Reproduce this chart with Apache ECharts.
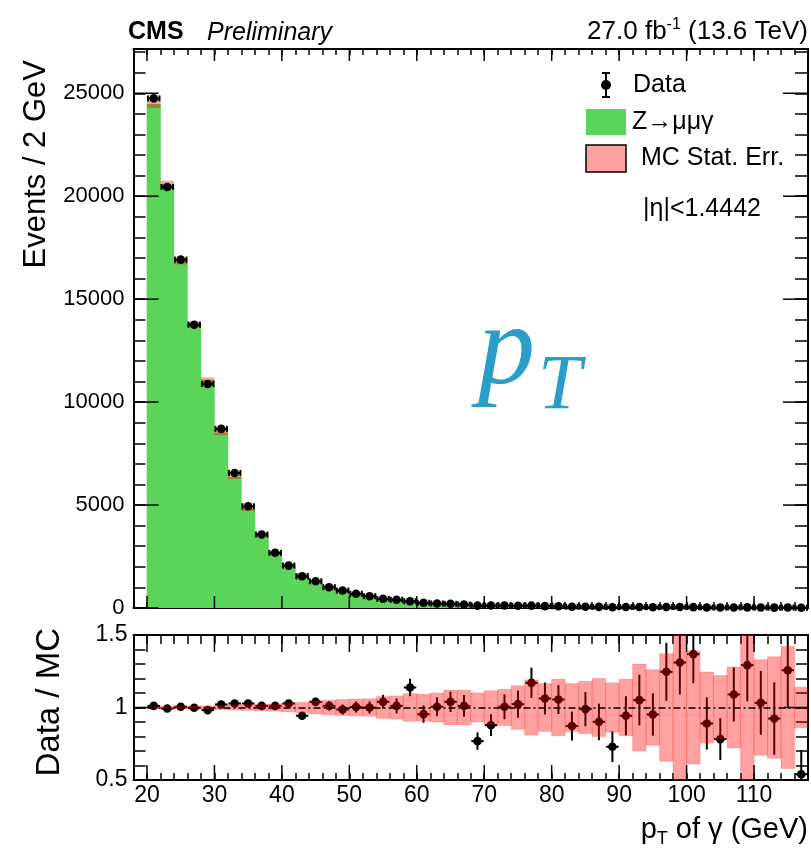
<!DOCTYPE html>
<html><head><meta charset="utf-8">
<script src="https://cdn.jsdelivr.net/npm/echarts@6/dist/echarts.min.js"></script>
<style>html,body{margin:0;padding:0;background:#fff;}#c{width:811px;height:850px;}</style>
</head><body><div id="c"></div>
<script>
// ---- data (2 GeV bins, photon pT) ----
const binLow = [20,22,24,26,28,30,32,34,36,38,40,42,44,46,48,50,52,54,56,58,60,62,64,66,68,70,72,74,76,78,80,82,84,86,88,90,92,94,96,98,100,102,104,106,108,110,112,114,116];
const mcValues = [24480,20590,16840,13790,11080,8520,6380,4805,3530,2650,2005,1635,1250,1000,862,687,573,430,394,290,264,217,196,168,150,134,119,107,97,88,80,72,65,59,54,49,45,41,38,35,32,29,27,25,23,21,20,18,17];
const dataValues = [24750,20450,16920,13760,10880,8700,6560,4940,3570,2680,2060,1540,1300,1010,850,690,573,447,398,330,252,218,204,170,115,118,120,110,113,93,84,63,64,53,39,46,47,39,47,46,44,26,21,27,30,22,18,23,9];
const mcRelErr = [0.008,0.008,0.009,0.01,0.011,0.015,0.018,0.02,0.022,0.025,0.03,0.035,0.045,0.05,0.055,0.058,0.06,0.075,0.08,0.095,0.092,0.1,0.12,0.12,0.1,0.115,0.125,0.15,0.19,0.165,0.195,0.165,0.18,0.2,0.17,0.195,0.3,0.26,0.37,0.6,0.39,0.245,0.22,0.28,0.6,0.33,0.35,0.42,0.14];
const ratioValues = [1.011,0.993,1.005,0.998,0.982,1.021,1.028,1.028,1.011,1.011,1.028,0.943,1.039,1.011,0.986,1.003,1.0,1.039,1.011,1.138,0.954,1.005,1.039,1.011,0.768,0.878,1.005,1.023,1.17,1.062,1.055,0.872,0.989,0.901,0.729,0.943,1.051,0.952,1.246,1.31,1.368,0.89,0.782,1.09,1.292,1.032,0.924,1.257,0.54];
const ratioErr = [0.006,0.006,0.007,0.008,0.009,0.01,0.012,0.014,0.017,0.019,0.022,0.025,0.028,0.032,0.035,0.038,0.042,0.048,0.052,0.06,0.06,0.065,0.07,0.075,0.06,0.075,0.086,0.094,0.105,0.11,0.1,0.1,0.118,0.126,0.106,0.135,0.175,0.146,0.2,0.22,0.2,0.18,0.144,0.186,0.25,0.22,0.25,0.26,0.165];
const binWidth = 2;
const xTickLabels = [20,30,40,50,60,70,80,90,100,110];
const yTickLabels = [0,5000,10000,15000,20000,25000];
const ratioTickLabels = [0.5,1,1.5];

// ---- styles ----
const FONT = "'Liberation Sans', Arial, sans-serif";
const GREEN = '#5ad55a';
const BAND = 'rgba(255,0,0,0.37)';
const X_MIN = 18, X_MAX = 118, Y_MAX = 27150, R_MIN = 0.5, R_MAX = 1.5;

const chart = echarts.init(document.getElementById('c'), null, {renderer: 'canvas'});

function csRect(params){ const c = params.coordSys; return {x:c.x, y:c.y, width:c.width, height:c.height}; }
function clip(r, params){ return echarts.graphic.clipRectByRect(r, csRect(params)); }

const barData = binLow.map((b,i)=>[b, mcValues[i], mcRelErr[i]]);
const dataPts = binLow.map((b,i)=>[b + binWidth/2, dataValues[i]]);
const ratioPts = binLow.map((b,i)=>[b + binWidth/2, ratioValues[i], ratioErr[i]]);
const bandData = binLow.map((b,i)=>[b, 1, mcRelErr[i]]);

function axisCommon(extra){
  return Object.assign({
    type:'value', splitLine:{show:false},
    axisLine:{show:true, onZero:false, lineStyle:{color:'#000', width:2}},
    axisTick:{show:true, inside:true, lineStyle:{color:'#000', width:1.5}},
    axisLabel:{show:false}
  }, extra);
}
function findLabel(v, list){ for (const t of list){ if (Math.abs(v-t) < 1e-6) return String(t); } return ''; }

function majorX(gridIdx, xIdx, yIdx, yMin, yMax, lb, lt){
  return {type:'custom', xAxisIndex:xIdx, yAxisIndex:yIdx, silent:true, z:10,
    data: xTickLabels.map(v=>[v, yMin]),
    renderItem:(params, api)=>{
      const pb = api.coord([api.value(0), yMin]);
      const pt = api.coord([api.value(0), yMax]);
      const st = {stroke:'#000', lineWidth:1.5};
      return {type:'group', children:[
        {type:'line', shape:{x1:pb[0], y1:pb[1], x2:pb[0], y2:pb[1]-lb}, style:st},
        {type:'line', shape:{x1:pt[0], y1:pt[1], x2:pt[0], y2:pt[1]+lt}, style:st}
      ]};
    }};
}
function majorY(xIdx, yIdx, values, len){
  return {type:'custom', xAxisIndex:xIdx, yAxisIndex:yIdx, silent:true, z:10,
    data: values.map(v=>[X_MIN, v]),
    renderItem:(params, api)=>{
      const pl = api.coord([X_MIN, api.value(1)]);
      const pr = api.coord([X_MAX, api.value(1)]);
      const st = {stroke:'#000', lineWidth:1.5};
      return {type:'group', children:[
        {type:'line', shape:{x1:pl[0], y1:pl[1], x2:pl[0]+len, y2:pl[1]}, style:st},
        {type:'line', shape:{x1:pr[0], y1:pr[1], x2:pr[0]-len, y2:pr[1]}, style:st}
      ]};
    }};
}

const option = {
  animation:false,
  backgroundColor:'#fff',
  grid:[
    {left:133.5, right:3, top:49, height:559},
    {left:133.5, right:3, top:635, height:145}
  ],
  xAxis:[
    axisCommon({gridIndex:0, position:'bottom', min:X_MIN, max:X_MAX, interval:2, axisTick:{show:true, inside:true, length:6, lineStyle:{color:'#000', width:1.5}}}),
    axisCommon({gridIndex:0, position:'top', min:X_MIN, max:X_MAX, interval:2, axisTick:{show:true, inside:true, length:6, lineStyle:{color:'#000', width:1.5}}}),
    axisCommon({gridIndex:1, position:'bottom', min:X_MIN, max:X_MAX, interval:2,
      axisTick:{show:true, inside:true, length:7, lineStyle:{color:'#000', width:1.5}},
      axisLabel:{show:true, margin:4, color:'#000', fontSize:23, fontFamily:FONT, formatter:v=>findLabel(v, xTickLabels)}}),
    axisCommon({gridIndex:1, position:'top', min:X_MIN, max:X_MAX, interval:2, axisTick:{show:true, inside:true, length:9, lineStyle:{color:'#000', width:1.5}}})
  ],
  yAxis:[
    axisCommon({gridIndex:0, position:'left', min:0, max:Y_MAX, interval:1000,
      axisTick:{show:true, inside:true, length:12, lineStyle:{color:'#000', width:1.5}},
      axisLabel:{show:true, margin:9, color:'#000', fontSize:22, fontFamily:FONT, formatter:v=>findLabel(v, yTickLabels)}}),
    axisCommon({gridIndex:0, position:'right', min:0, max:Y_MAX, interval:1000, axisTick:{show:true, inside:true, length:13, lineStyle:{color:'#000', width:1.5}}}),
    axisCommon({gridIndex:1, position:'left', min:R_MIN, max:R_MAX, interval:0.1,
      axisTick:{show:true, inside:true, length:12, lineStyle:{color:'#000', width:1.5}},
      axisLabel:{show:true, margin:6, color:'#000', fontSize:23, fontFamily:FONT, formatter:v=>findLabel(v, ratioTickLabels)}}),
    axisCommon({gridIndex:1, position:'right', min:R_MIN, max:R_MAX, interval:0.1, axisTick:{show:true, inside:true, length:12, lineStyle:{color:'#000', width:1.5}}})
  ],
  series:[
    // MC histogram
    {type:'custom', name:'Z→μμγ', xAxisIndex:0, yAxisIndex:0, data:barData, z:2,
      renderItem:(params, api)=>{
        const x0 = api.value(0), v = api.value(1);
        const p0 = api.coord([x0, 0]), p1 = api.coord([x0 + binWidth, v]);
        const r = clip({x:p0[0]-0.3, y:p1[1], width:p1[0]-p0[0]+0.6, height:p0[1]-p1[1]}, params);
        return r ? {type:'rect', shape:r, style:{fill:GREEN}} : null;
      }},
    // MC stat error in upper panel
    {type:'custom', name:'MC Stat. Err.', xAxisIndex:0, yAxisIndex:0, data:barData, z:3,
      renderItem:(params, api)=>{
        const x0 = api.value(0), v = api.value(1), e = api.value(2);
        const p0 = api.coord([x0, v*(1+e)]), p1 = api.coord([x0 + binWidth, v*(1-e)]);
        const r = clip({x:p0[0], y:p0[1], width:p1[0]-p0[0], height:Math.max(p1[1]-p0[1], 1)}, params);
        return r ? {type:'rect', shape:r, style:{fill:BAND}} : null;
      }},
    // Data points upper panel
    {type:'custom', name:'Data', xAxisIndex:0, yAxisIndex:0, data:dataPts, z:5,
      renderItem:(params, api)=>{
        const xc = api.value(0), v = api.value(1);
        const pl = api.coord([xc - binWidth/2, v]), pr = api.coord([xc + binWidth/2, v]), pc = api.coord([xc, v]);
        const st = {stroke:'#000', lineWidth:2};
        return {type:'group', children:[
          {type:'line', shape:{x1:pl[0]+1, y1:pl[1], x2:pr[0]-1, y2:pr[1]}, style:st},
          {type:'line', shape:{x1:pl[0]+1, y1:pl[1]-3, x2:pl[0]+1, y2:pl[1]+3}, style:st},
          {type:'line', shape:{x1:pr[0]-1, y1:pr[1]-3, x2:pr[0]-1, y2:pr[1]+3}, style:st},
          {type:'circle', shape:{cx:pc[0], cy:pc[1], r:4.3}, style:{fill:'#000'}}
        ]};
      }},
    // Ratio points
    {type:'custom', name:'Ratio', xAxisIndex:2, yAxisIndex:2, data:ratioPts, z:3, clip:true,
      renderItem:(params, api)=>{
        const xc = api.value(0), v = api.value(1), e = api.value(2);
        const pl = api.coord([xc - binWidth/2, v]), pr = api.coord([xc + binWidth/2, v]), pc = api.coord([xc, v]);
        const pu = api.coord([xc, v+e]), pd = api.coord([xc, v-e]);
        const st = {stroke:'#000', lineWidth:2};
        return {type:'group', children:[
          {type:'line', shape:{x1:pl[0]+0.5, y1:pl[1], x2:pr[0]-0.5, y2:pr[1]}, style:st},
          {type:'line', shape:{x1:pu[0], y1:pu[1], x2:pd[0], y2:pd[1]}, style:st},
          {type:'circle', shape:{cx:pc[0], cy:pc[1], r:4.3}, style:{fill:'#000'}}
        ]};
      }},
    // MC stat band ratio (drawn on top)
    {type:'custom', name:'Band', xAxisIndex:2, yAxisIndex:2, data:bandData, z:4,
      renderItem:(params, api)=>{
        const x0 = api.value(0), c = api.value(1), e = api.value(2);
        const p0 = api.coord([x0, c+e]), p1 = api.coord([x0 + binWidth, c-e]);
        const r = clip({x:p0[0], y:p0[1], width:p1[0]-p0[0], height:p1[1]-p0[1]}, params);
        return r ? {type:'rect', shape:r, style:{fill:BAND, stroke:'rgba(255,0,0,0.18)', lineWidth:1}} : null;
      },
      markLine:{silent:true, symbol:'none', label:{show:false}, z:6,
        lineStyle:{color:'#000', width:1.5, type:[7,3,2,3]}, data:[{yAxis:1}]}
    },
    majorX(0, 0, 0, 0, Y_MAX, 12, 12),
    majorY(0, 0, yTickLabels, 25),
    majorX(1, 2, 2, R_MIN, R_MAX, 15, 17),
    majorY(2, 2, ratioTickLabels, 24)
  ],
  graphic:[
    {type:'text', x:128, y:32, style:{text:'CMS', font:"bold 25px "+FONT, fill:'#000', verticalAlign:'middle', align:'left'}},
    {type:'text', x:207, y:33, style:{text:'Preliminary', font:"italic 25px "+FONT, fill:'#000', verticalAlign:'middle', align:'left'}},
    {type:'text', x:808, y:32, style:{text:'{a|27.0 fb}{s|-1}{a| (13.6 TeV)}', align:'right', verticalAlign:'middle',
      rich:{a:{font:"26px "+FONT, fill:'#000', lineHeight:30}, s:{font:"16px "+FONT, fill:'#000', verticalAlign:'top', lineHeight:14}}}},
    // big pT
    {type:'text', x:478, y:353, style:{text:'p', font:"italic 114px 'Liberation Serif', serif", fill:'#2a9ec8', verticalAlign:'middle', align:'left'}},
    {type:'text', x:538, y:387, style:{text:'T', font:"italic 78px 'Liberation Serif', serif", fill:'#2a9ec8', verticalAlign:'middle', align:'left'}},
    // axis titles
    {type:'text', x:36, y:60, rotation:Math.PI/2, style:{text:'Events / 2 GeV', font:"31px "+FONT, fill:'#000', align:'right', verticalAlign:'middle'}},
    {type:'text', x:50, y:628, rotation:Math.PI/2, style:{text:'Data / MC', font:"33px "+FONT, fill:'#000', align:'right', verticalAlign:'middle'}},
    {type:'text', x:808, y:830, style:{text:'{a|p}{s|T}{a| of γ (GeV)}', align:'right', verticalAlign:'middle',
      rich:{a:{font:"29px "+FONT, fill:'#000', lineHeight:36}, s:{font:"18px "+FONT, fill:'#000', verticalAlign:'bottom', lineHeight:14}}}},
    // legend
    {type:'group', children:[
      {type:'line', shape:{x1:606, y1:73, x2:606, y2:97}, style:{stroke:'#000', lineWidth:2}},
      {type:'line', shape:{x1:602, y1:73, x2:610, y2:73}, style:{stroke:'#000', lineWidth:2}},
      {type:'line', shape:{x1:602, y1:97, x2:610, y2:97}, style:{stroke:'#000', lineWidth:2}},
      {type:'circle', shape:{cx:606, cy:85, r:5}, style:{fill:'#000'}},
      {type:'text', x:633, y:85, style:{text:'Data', font:"25px "+FONT, fill:'#000', verticalAlign:'middle'}},
      {type:'rect', shape:{x:586, y:109, width:40, height:26}, style:{fill:GREEN}},
      {type:'text', x:632, y:122, style:{text:'Z→μμγ', font:"25px "+FONT, fill:'#000', verticalAlign:'middle'}},
      {type:'rect', shape:{x:586, y:145, width:40, height:27}, style:{fill:'#ffa1a1', stroke:'#000', lineWidth:1.5}},
      {type:'text', x:641, y:158, style:{text:'MC Stat. Err.', font:"25px "+FONT, fill:'#000', verticalAlign:'middle'}},
      {type:'text', x:643, y:209, style:{text:'|η|<1.4442', font:"25px "+FONT, fill:'#000', verticalAlign:'middle'}}
    ]}
  ]
};
chart.setOption(option);
</script></body></html>
